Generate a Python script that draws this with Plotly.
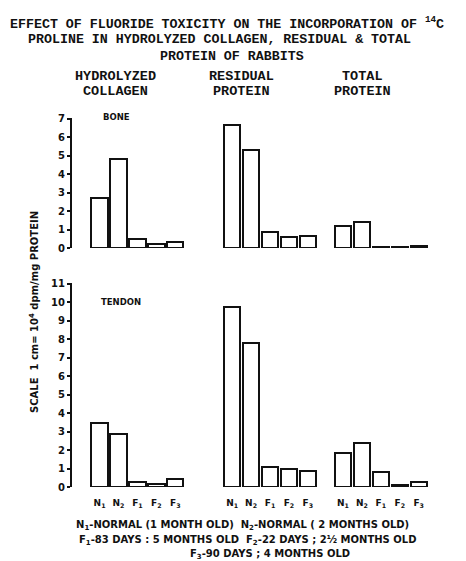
import plotly.graph_objects as go

# ---- data ----
bar_labels = ["N<sub>1</sub>", "N<sub>2</sub>", "F<sub>1</sub>", "F<sub>2</sub>", "F<sub>3</sub>"]
group_names = [["HYDROLYZED", "COLLAGEN"], ["RESIDUAL", "PROTEIN"], ["TOTAL", "PROTEIN"]]

bone_hydrolyzed = [2.70, 4.81, 0.49, 0.22, 0.33]
bone_residual = [6.67, 5.32, 0.89, 0.61, 0.65]
bone_total = [1.19, 1.41, 0.08, 0.08, 0.12]

tendon_hydrolyzed = [3.46, 2.86, 0.27, 0.18, 0.43]
tendon_residual = [9.73, 7.78, 1.08, 0.97, 0.86]
tendon_total = [1.84, 2.38, 0.81, 0.10, 0.27]

bone_ticks = list(range(0, 8))
tendon_ticks = list(range(0, 12))

# ---- layout constants ----
W, H = 466, 561
L, R = 72, 35
PW = W - L - R
group_offsets = [0, 7, 12.85]


def px2x(px):
    return (px - L) / PW


def py2y(py):
    return 1 - py / H


positions = [g + i for g in group_offsets for i in range(len(bar_labels))]
tick_text = bar_labels * len(group_offsets)

bone_values = bone_hydrolyzed + bone_residual + bone_total
tendon_values = tendon_hydrolyzed + tendon_residual + tendon_total

bar_style = dict(marker=dict(color="white", line=dict(color="#111", width=2)),
                 width=0.86, showlegend=False, hoverinfo="y")

fig = go.Figure()
fig.add_trace(go.Bar(x=positions, y=bone_values, xaxis="x", yaxis="y", **bar_style))
fig.add_trace(go.Bar(x=positions, y=tendon_values, xaxis="x2", yaxis="y2", **bar_style))

sans = "DejaVu Sans"
mono = "Liberation Mono"
ink = "#111"

yax_common = dict(showline=True, linewidth=2, linecolor=ink, ticks="outside", ticklen=3,
                  tickwidth=1.5, tickcolor=ink, showgrid=False, zeroline=False,
                  automargin=False,
                  tickfont=dict(family=sans, size=10, color=ink, weight="bold"))

fig.update_layout(
    width=W, height=H,
    margin=dict(l=L, r=R, t=0, b=0, autoexpand=False),
    paper_bgcolor="white", plot_bgcolor="white",
    bargap=0,
    xaxis=dict(domain=[0, 1], range=[-1.455, 17.5], anchor="y", showticklabels=False,
               showline=False, showgrid=False, zeroline=False, ticks="", automargin=False),
    xaxis2=dict(domain=[0, 1], range=[-1.455, 17.5], anchor="y2", matches="x",
                showline=False, showgrid=False, zeroline=False, automargin=False,
                tickmode="array", tickvals=positions, ticktext=tick_text,
                ticks="outside", ticklen=7, tickcolor="rgba(0,0,0,0)",
                tickfont=dict(family=sans, size=9, color=ink, weight="bold")),
    yaxis=dict(domain=[py2y(248), py2y(118)], range=[0, 7.05], anchor="x",
               tickmode="array", tickvals=bone_ticks, **yax_common),
    yaxis2=dict(domain=[py2y(487), py2y(283)], range=[0, 11.05], anchor="x2",
                tickmode="array", tickvals=tendon_ticks, **yax_common),
)

ann = []


def text(px, py, s, size, family, xanchor="center", angle=0):
    ann.append(dict(x=px2x(px), y=py2y(py), xref="paper", yref="paper", text=s,
                    showarrow=False, xanchor=xanchor, yanchor="middle", textangle=angle,
                    font=dict(family=family, size=size, color=ink, weight="bold")))


# title lines
text(8, 23, "EFFECT OF FLUORIDE TOXICITY ON THE INCORPORATION OF <sup>14</sup>C", 13.3, mono, "left")
text(26, 39, "PROLINE IN HYDROLYZED COLLAGEN, RESIDUAL & TOTAL", 13.3, mono, "left")
text(158, 56, "PROTEIN OF RABBITS", 13.3, mono, "left")

# group headers
header_x = [115, 241, 362]
for cx, (l1, l2) in zip(header_x, group_names):
    text(cx, 76, l1, 13.5, mono)
    text(cx, 91, l2, 13.5, mono)

# panel labels
text(116, 117, "BONE", 8.5, sans)
text(121, 302, "TENDON", 8.5, sans)

# y axis title
text(34, 312, "SCALE  1 cm= 10<sup>4</sup> dpm/mg PROTEIN", 10, sans, angle=-90)

# legend / footnote
text(242, 525, "N<sub>1</sub>-NORMAL (1 MONTH OLD)  N<sub>2</sub>-NORMAL ( 2 MONTHS OLD)", 10, sans)
text(247, 540, "F<sub>1</sub>-83 DAYS : 5 MONTHS OLD  F<sub>2</sub>-22 DAYS ; 2½ MONTHS OLD", 10, sans)
text(270, 554, "F<sub>3</sub>-90 DAYS ; 4 MONTHS OLD", 10, sans)

fig.update_layout(annotations=ann)
fig.write_html("out.html",
               config={"displayModeBar": False, "responsive": False},
               post_script="document.body.style.margin='0';document.body.style.overflow='hidden';")
